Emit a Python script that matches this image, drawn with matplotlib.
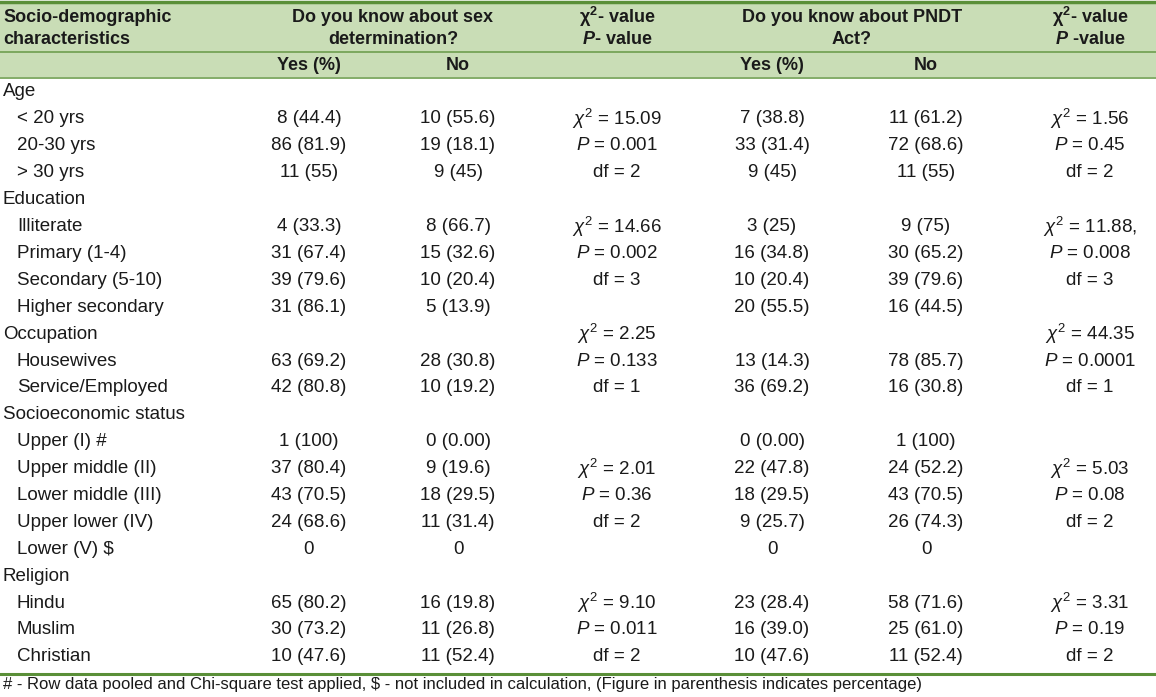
import matplotlib
matplotlib.use('Agg')
import matplotlib.pyplot as plt

plt.rcParams['font.family'] = ['Liberation Sans', 'DejaVu Sans']
plt.rcParams['mathtext.fontset'] = 'custom'
plt.rcParams['mathtext.rm'] = 'Liberation Sans'
plt.rcParams['mathtext.it'] = 'Liberation Sans:italic'
plt.rcParams['mathtext.bf'] = 'Liberation Sans:bold'
plt.rcParams['mathtext.bfit'] = 'Liberation Sans:italic:bold'

# Table data
GROUPS = ['Age', 'Education', 'Occupation', 'Socioeconomic status', 'Religion']
LABELS = [
    ['< 20 yrs', '20-30 yrs', '> 30 yrs'],
    ['Illiterate', 'Primary (1-4)', 'Secondary (5-10)', 'Higher secondary'],
    ['Housewives', 'Service/Employed'],
    ['Upper (I) #', 'Upper middle (II)', 'Lower middle (III)', 'Upper lower (IV)', 'Lower (V) \\$'],
    ['Hindu', 'Muslim', 'Christian'],
]
SEX_YES = [
    ['8 (44.4)', '86 (81.9)', '11 (55)'],
    ['4 (33.3)', '31 (67.4)', '39 (79.6)', '31 (86.1)'],
    ['63 (69.2)', '42 (80.8)'],
    ['1 (100)', '37 (80.4)', '43 (70.5)', '24 (68.6)', '0'],
    ['65 (80.2)', '30 (73.2)', '10 (47.6)'],
]
SEX_NO = [
    ['10 (55.6)', '19 (18.1)', '9 (45)'],
    ['8 (66.7)', '15 (32.6)', '10 (20.4)', '5 (13.9)'],
    ['28 (30.8)', '10 (19.2)'],
    ['0 (0.00)', '9 (19.6)', '18 (29.5)', '11 (31.4)', '0'],
    ['16 (19.8)', '11 (26.8)', '11 (52.4)'],
]
PNDT_YES = [
    ['7 (38.8)', '33 (31.4)', '9 (45)'],
    ['3 (25)', '16 (34.8)', '10 (20.4)', '20 (55.5)'],
    ['13 (14.3)', '36 (69.2)'],
    ['0 (0.00)', '22 (47.8)', '18 (29.5)', '9 (25.7)', '0'],
    ['23 (28.4)', '16 (39.0)', '10 (47.6)'],
]
PNDT_NO = [
    ['11 (61.2)', '72 (68.6)', '11 (55)'],
    ['9 (75)', '30 (65.2)', '39 (79.6)', '16 (44.5)'],
    ['78 (85.7)', '16 (30.8)'],
    ['1 (100)', '24 (52.2)', '43 (70.5)', '26 (74.3)', '0'],
    ['58 (71.6)', '25 (61.0)', '11 (52.4)'],
]
# chi-square, P, df for each test; STAT_ROW = row offset (0 = group heading row)
SEX_CHI = ['15.09', '14.66', '2.25', '2.01', '9.10']
SEX_P = ['0.001', '0.002', '0.133', '0.36', '0.011']
SEX_DF = ['2', '3', '1', '2', '2']
PNDT_CHI = ['1.56', '11.88,', '44.35', '5.03', '3.31']
PNDT_P = ['0.45', '0.008', '0.0001', '0.08', '0.19']
PNDT_DF = ['2', '3', '1', '2', '2']
STAT_ROW = [1, 1, 0, 2, 1]

FOOTNOTE = ('# - Row data pooled and Chi-square test applied, \\$ - not included in '
            'calculation, (Figure in parenthesis indicates percentage)')

W, H = 1156, 697
GREEN_BG = '#c9ddb6'
GREEN_LINE = '#6e9e4f'
GREEN_DARK = '#5a8f38'
FS = 13.5
FS_HEAD = 13

fig = plt.figure(figsize=(W / 100, H / 100), dpi=100)
ax = fig.add_axes([0, 0, 1, 1])
ax.set_xlim(0, W)
ax.set_ylim(H, 0)
ax.axis('off')

# header band and rules
ax.axhspan(2, 77, color=GREEN_BG, lw=0)
ax.axhline(1.5, color=GREEN_DARK, lw=2.5)
ax.axhline(52, color=GREEN_LINE, lw=1.2)
ax.axhline(77.5, color=GREEN_LINE, lw=1.2)
ax.axhline(673.5, color=GREEN_DARK, lw=2.2)

COLS = [309, 458, 617, 772, 926, 1090]
tc = '#1a1a1a'

def txt(x, y, s, ha='center', bold=False, size=FS):
    ax.text(x, y, s, ha=ha, va='center', fontsize=size, color=tc,
            fontweight='bold' if bold else 'normal')

def head(x, y, s, ha='center'):
    txt(x, y, s, ha=ha, bold=True, size=FS_HEAD)

# header
head(3, 17, 'Socio-demographic', ha='left')
head(3, 39, 'characteristics', ha='left')
head(393, 17, 'Do you know about sex')
head(393, 39, 'determination?')
head(617, 17, r'$\mathbf{\chi^2}$- value')
head(617, 39, r'$\mathbfit{P}$- value')
head(852, 17, 'Do you know about PNDT')
head(852, 39, 'Act?')
head(1090, 17, r'$\mathbf{\chi^2}$- value')
head(1090, 39, r'$\mathbfit{P}$ -value')
for x, s in zip(COLS[:2] + COLS[3:5], ['Yes (%)', 'No', 'Yes (%)', 'No']):
    head(x, 65, s)

# body
y0, dy = 92, 26.9
row = 0
for g, group in enumerate(GROUPS):
    gy = y0 + row * dy
    txt(3, gy, group, ha='left')
    for i, lab in enumerate(LABELS[g]):
        y = gy + (i + 1) * dy
        txt(17, y, lab, ha='left')
        txt(COLS[0], y, SEX_YES[g][i])
        txt(COLS[1], y, SEX_NO[g][i])
        txt(COLS[3], y, PNDT_YES[g][i])
        txt(COLS[4], y, PNDT_NO[g][i])
    sy = gy + STAT_ROW[g] * dy
    for x, chi, p, df in [(COLS[2], SEX_CHI[g], SEX_P[g], SEX_DF[g]),
                          (COLS[5], PNDT_CHI[g], PNDT_P[g], PNDT_DF[g])]:
        txt(x, sy, r'$\chi^2$ = ' + chi)
        txt(x, sy + dy, r'$\mathit{P}$ = ' + p)
        txt(x, sy + 2 * dy, 'df = ' + df)
    row += len(LABELS[g]) + 1

txt(3, 685, FOOTNOTE, ha='left', size=12)

fig.savefig('out.png', dpi=100, facecolor='white')
